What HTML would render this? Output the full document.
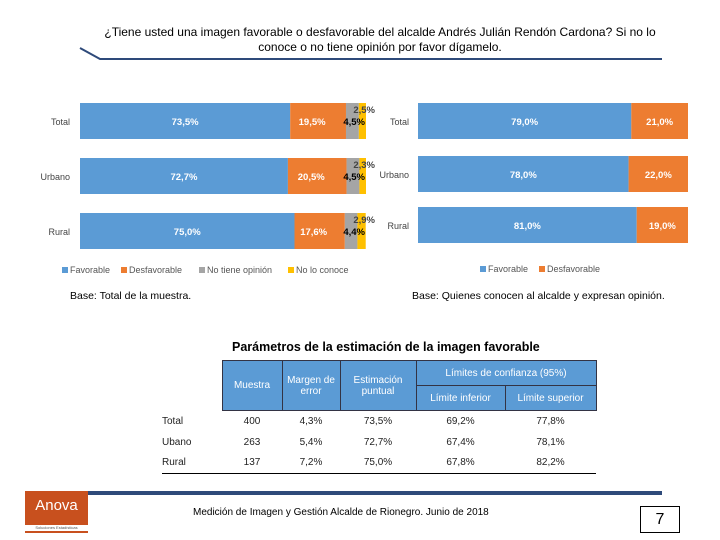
<!DOCTYPE html>
<html><head><meta charset="utf-8"><style>
body{margin:0;width:720px;height:540px;background:#fff;position:relative;overflow:hidden;font-family:"Liberation Sans",sans-serif}
.abs{position:absolute}
svg text{font-family:"Liberation Sans",sans-serif}
table td{padding:0;box-sizing:border-box}
</style></head><body>
<div class="abs" style="left:100px;top:25px;width:560px;text-align:center;font-size:12px;line-height:15px;color:#000">¿Tiene usted una imagen favorable o desfavorable del alcalde Andrés Julián Rendón Cardona? Si no lo conoce o no tiene opinión por favor dígamelo.</div>
<svg class="abs" style="left:0;top:0" width="720" height="540">
<polyline points="80,48 100,59 662,59" fill="none" stroke="#2e4a7a" stroke-width="2"/>
<g id="left"></g><g id="right"></g>
<rect x="68" y="491" width="594" height="4" fill="#2e4a7a"/>
</svg>
<div class="abs" style="left:70px;top:290px;font-size:10.5px">Base: Total de la muestra.</div>
<div class="abs" style="left:412px;top:290px;font-size:10.5px">Base: Quienes conocen al alcalde y expresan opinión.</div>
<div class="abs" style="left:232px;top:340px;font-size:12.5px;font-weight:bold">Parámetros de la estimación de la imagen favorable</div>
<table class="abs" style="left:162px;top:360px;width:434px;table-layout:fixed;border-collapse:collapse;font-size:10px;color:#222">
<colgroup><col style="width:60px"><col style="width:60px"><col style="width:58px"><col style="width:76px"><col style="width:89px"><col style="width:91px"></colgroup>
<tr style="height:25px"><td rowspan="2"></td>
<td rowspan="2" style="background:#5b9bd5;color:#fff;text-align:center;border:1px solid #334">Muestra</td>
<td rowspan="2" style="background:#5b9bd5;color:#fff;text-align:center;border:1px solid #334">Margen de<br>error</td>
<td rowspan="2" style="background:#5b9bd5;color:#fff;text-align:center;border:1px solid #334">Estimación<br>puntual</td>
<td colspan="2" style="background:#5b9bd5;color:#fff;text-align:center;border:1px solid #334">Límites de confianza (95%)</td></tr>
<tr style="height:25px"><td style="background:#5b9bd5;color:#fff;text-align:center;border:1px solid #334">Límite inferior</td><td style="background:#5b9bd5;color:#fff;text-align:center;border:1px solid #334">Límite superior</td></tr>
<tr style="height:21px;text-align:center"><td style="text-align:left">Total</td><td>400</td><td>4,3%</td><td>73,5%</td><td>69,2%</td><td>77,8%</td></tr>
<tr style="height:21px;text-align:center"><td style="text-align:left">Ubano</td><td>263</td><td>5,4%</td><td>72,7%</td><td>67,4%</td><td>78,1%</td></tr>
<tr style="height:21px;text-align:center;border-bottom:1px solid #000"><td style="text-align:left">Rural</td><td>137</td><td>7,2%</td><td>75,0%</td><td>67,8%</td><td>82,2%</td></tr>
</table>
<div class="abs" style="left:25px;top:491px;width:63px;height:42px;background:#c8501e;color:#fff;font-size:15px;text-align:center;line-height:30px">Anova<div style="font-size:4px;line-height:6px;background:#fff;color:#555;margin-top:4px">Soluciones Estadísticas</div></div>
<div class="abs" style="left:193px;top:507px;font-size:10px">Medición de Imagen y Gestión Alcalde de Rionegro. Junio de 2018</div>
<div class="abs" style="left:640px;top:506px;width:38px;height:25px;border:1px solid #000;text-align:center;font-size:16px;line-height:25px">7</div>
<script>
const cats=["Total","Urbano","Rural"];
const favL=[73.5,72.7,75.0],desL=[19.5,20.5,17.6],noOp=[4.5,4.5,4.4],noCo=[2.5,2.3,2.9];
const favR=[79.0,78.0,81.0],desR=[21.0,22.0,19.0];
const NS="http://www.w3.org/2000/svg";
function mk(p,t,a){const e=document.createElementNS(NS,t);for(const k in a)e.setAttribute(k,a[k]);p.appendChild(e);return e;}
function fmt(v){return v.toFixed(1).replace('.',',')+'%';}
const L=document.getElementById('left'),R=document.getElementById('right');
const xL=v=>80+v*2.86, yL=[103,158,213];
const xR=v=>418+v*2.7, yR=[103,156,207];
const cols=["#5b9bd5","#ed7d31","#a5a5a5","#ffc000"];
cats.forEach((c,i)=>{
 let t=mk(L,'text',{x:70,y:yL[i]+22,'text-anchor':'end','font-size':9,fill:'#444'});t.textContent=c;
 
 const vals=[favL[i],desL[i],noOp[i],noCo[i]];let acc=0;
 vals.forEach((v,k)=>{const r=mk(L,'rect',{x:xL(acc),y:yL[i],width:xL(acc+v)-xL(acc),height:36,fill:cols[k]});
  acc+=v;});
 let a=mk(L,'text',{x:(xL(0)+xL(favL[i]))/2,y:yL[i]+22,'text-anchor':'middle','font-size':9.5,'font-weight':'bold',fill:'#fff'});a.textContent=fmt(favL[i]);
 let b=mk(L,'text',{x:(xL(favL[i])+xL(favL[i]+desL[i]))/2-6,y:yL[i]+22,'text-anchor':'middle','font-size':9.5,'font-weight':'bold',fill:'#fff'});b.textContent=fmt(desL[i]);
 let d=mk(L,'text',{x:xL(100)-1,y:yL[i]+22,'text-anchor':'end','font-size':9.5,'font-weight':'bold',fill:'#000'});d.textContent=fmt(noOp[i]);
 let e=mk(L,'text',{x:xL(100)+9,y:yL[i]+10,'text-anchor':'end','font-size':9.5,'font-weight':'bold',fill:'#444'});e.textContent=fmt(noCo[i]);
 let t2=mk(R,'text',{x:409,y:yR[i]+22,'text-anchor':'end','font-size':9,fill:'#444'});t2.textContent=c;
 
 let r1=mk(R,'rect',{x:xR(0),y:yR[i],width:xR(favR[i])-xR(0),height:36,fill:cols[0]});
 
 let r2=mk(R,'rect',{x:xR(favR[i]),y:yR[i],width:xR(favR[i]+desR[i])-xR(favR[i]),height:36,fill:cols[1]});
 
 let f=mk(R,'text',{x:(xR(0)+xR(favR[i]))/2,y:yR[i]+22,'text-anchor':'middle','font-size':9.5,'font-weight':'bold',fill:'#fff'});f.textContent=fmt(favR[i]);
 let g=mk(R,'text',{x:(xR(favR[i])+xR(100))/2,y:yR[i]+22,'text-anchor':'middle','font-size':9.5,'font-weight':'bold',fill:'#fff'});g.textContent=fmt(desR[i]);
});
const legL=[["Favorable",62],["Desfavorable",121],["No tiene opinión",199],["No lo conoce",288]];
legL.forEach((l,k)=>{let r=mk(L,'rect',{x:l[1],y:267,width:6,height:6,fill:cols[k]});
 
 let t=mk(L,'text',{x:l[1]+8,y:273,'font-size':9,fill:'#555'});t.textContent=l[0];});
[["Favorable",480],["Desfavorable",539]].forEach((l,k)=>{let r=mk(R,'rect',{x:l[1],y:266,width:6,height:6,fill:cols[k]});
 
 let t=mk(R,'text',{x:l[1]+8,y:272,'font-size':9,fill:'#555'});t.textContent=l[0];});
</script>
</body></html>
